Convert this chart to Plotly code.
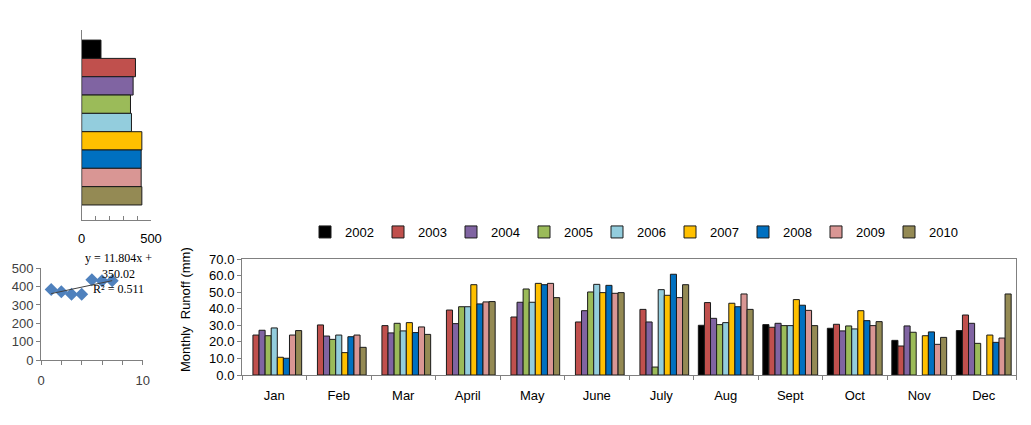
import plotly.graph_objects as go

W, H = 1031, 425

months = ["Jan", "Feb", "Mar", "April", "May", "June", "July", "Aug", "Sept", "Oct", "Nov", "Dec"]
years = ["2002", "2003", "2004", "2005", "2006", "2007", "2008", "2009", "2010"]
colors = ["#000000", "#C0504D", "#8064A2", "#9BBB59", "#93CDDD", "#FFC000", "#0070C0", "#D99694", "#948A54"]

runoff_2002 = [None, None, None, None, None, None, None, 30.0, 30.4, 28.2, 20.9, 26.8]
runoff_2003 = [24.1, 30.2, 29.8, 39.2, 35.0, 32.0, 39.6, 43.7, 28.8, 30.6, 17.5, 36.2]
runoff_2004 = [27.0, 23.5, 25.4, 31.0, 43.9, 38.8, 32.0, 34.2, 31.2, 26.6, 29.6, 31.2]
runoff_2005 = [23.7, 21.5, 31.2, 41.2, 51.9, 50.1, 4.8, 30.4, 29.8, 29.6, 25.8, 19.1]
runoff_2006 = [28.4, 24.1, 26.6, 41.2, 43.9, 54.7, 51.5, 31.6, 29.8, 27.8, None, None]
runoff_2007 = [10.7, 13.5, 31.6, 54.5, 55.3, 49.7, 48.1, 43.3, 45.5, 38.8, 23.7, 24.1]
runoff_2008 = [10.1, 23.1, 25.6, 42.9, 54.5, 54.1, 60.8, 41.2, 42.1, 32.8, 26.0, 19.7]
runoff_2009 = [24.1, 24.1, 29.0, 44.1, 55.3, 49.3, 46.7, 48.9, 39.0, 29.8, 18.5, 22.3]
runoff_2010 = [26.8, 16.7, 24.5, 44.3, 46.7, 49.7, 54.5, 39.6, 29.8, 32.2, 22.7, 48.9]
monthly = [runoff_2002, runoff_2003, runoff_2004, runoff_2005, runoff_2006,
           runoff_2007, runoff_2008, runoff_2009, runoff_2010]

annual_totals = [139, 388, 371, 352, 359, 434, 429, 429, 434]

scatter_x = [1, 2, 3, 4, 5, 6, 7]
scatter_y = [385, 372, 358, 358, 437, 432, 432]
trend_slope = 11.804
trend_intercept = 350.02
trend_label = "y = 11.804x +<br>350.02<br>R² = 0.511"

FONT = "Arial, Liberation Sans, sans-serif"


def px_x(p):
    return p / W


def px_y(p):
    return (H - p) / H


fig = go.Figure()

# main grouped bars
for yr, col, vals in zip(years, colors, monthly):
    fig.add_trace(go.Bar(
        x=months, y=vals, name=yr, marker_color=col,
        marker_line=dict(color="#1a1a1a", width=1),
        xaxis="x", yaxis="y", showlegend=True,
    ))

# annual totals horizontal bars
fig.add_trace(go.Bar(
    x=annual_totals, y=list(range(len(years))), orientation="h",
    marker_color=colors, marker_line=dict(color="#1a1a1a", width=1),
    width=1, xaxis="x2", yaxis="y2", showlegend=False,
))

# scatter
fig.add_trace(go.Scatter(
    x=scatter_x, y=scatter_y, mode="markers",
    marker=dict(symbol="diamond", size=10, color="#4F81BD"),
    xaxis="x3", yaxis="y3", showlegend=False,
))
tx = [scatter_x[0], scatter_x[-1]]
fig.add_trace(go.Scatter(
    x=tx, y=[trend_slope * v + trend_intercept for v in tx], mode="lines",
    line=dict(color="#404040", width=1),
    xaxis="x3", yaxis="y3", showlegend=False,
))

axis_col = "#808080"

fig.update_layout(
    width=W, height=H,
    margin=dict(l=0, r=0, t=0, b=0, autoexpand=False),
    paper_bgcolor="white", plot_bgcolor="white",
    font=dict(family=FONT, size=13, color="#000"),
    barmode="group", bargap=0.15, bargroupgap=0,
    legend=dict(orientation="h", x=px_x(305), y=px_y(232), yanchor="middle", xanchor="left",
                font=dict(size=13, family=FONT), entrywidth=28, entrywidthmode="pixels",
                itemwidth=30, bgcolor="rgba(0,0,0,0)", traceorder="normal"),
    xaxis=dict(domain=[px_x(242), px_x(1016)], anchor="y", type="category",
               tickson="boundaries", ticks="outside", ticklen=4, tickcolor=axis_col,
               showline=True, linecolor=axis_col, mirror=True, showgrid=False,
               ticklabelstandoff=8, tickfont=dict(size=13)),
    yaxis=dict(domain=[px_y(375), px_y(259)], anchor="x", range=[0, 70], dtick=10,
               tickformat=".1f", ticks="outside", ticklen=4, tickcolor=axis_col,
               showline=True, linecolor=axis_col, mirror=True, showgrid=False,
               zeroline=False, tickfont=dict(size=13)),
    xaxis2=dict(domain=[px_x(81.7), px_x(151)], anchor="y2", range=[0, 500],
                tickvals=[0, 100, 200, 300, 400, 500], ticktext=["0", "", "", "", "", "500"],
                ticks="inside", ticklen=4, tickcolor=axis_col, showline=True, linecolor=axis_col,
                showgrid=False, zeroline=False, ticklabelstandoff=6, tickfont=dict(size=13)),
    yaxis2=dict(domain=[px_y(220), px_y(30)], anchor="x2", range=[9.32, -1.05],
                showticklabels=False, ticks="", showline=True, linecolor=axis_col,
                showgrid=False, zeroline=False),
    xaxis3=dict(domain=[px_x(41), px_x(142.7)], anchor="y3", range=[0, 10],
                tickvals=[0, 2, 4, 6, 8, 10], ticktext=["0", "", "", "", "", "10"],
                ticks="outside", ticklen=4, tickcolor=axis_col, showline=True, linecolor=axis_col,
                showgrid=False, zeroline=False, ticklabelstandoff=4,
                tickfont=dict(size=13, color="#404040")),
    yaxis3=dict(domain=[px_y(360), px_y(268.3)], anchor="x3", range=[0, 500], dtick=100,
                ticks="outside", ticklen=4, tickcolor=axis_col, showline=True, linecolor=axis_col,
                showgrid=False, zeroline=False, tickfont=dict(size=13, color="#404040")),
)

fig.add_annotation(
    text="Monthly\u00a0\u00a0Runoff (mm)", textangle=-90, showarrow=False,
    xref="paper", yref="paper", x=px_x(185), y=px_y(310),
    xanchor="center", yanchor="middle", font=dict(size=13, family=FONT),
)
fig.add_annotation(
    text=trend_label, showarrow=False, xref="paper", yref="paper",
    x=px_x(118), y=px_y(273), xanchor="center", yanchor="middle", align="center",
    font=dict(size=12, family="Liberation Serif, Times New Roman, serif", color="#000"),
)

fig.write_html("out.html", config={"displayModeBar": False},
               post_script="document.body.style.margin='0';document.body.style.overflow='hidden';")
